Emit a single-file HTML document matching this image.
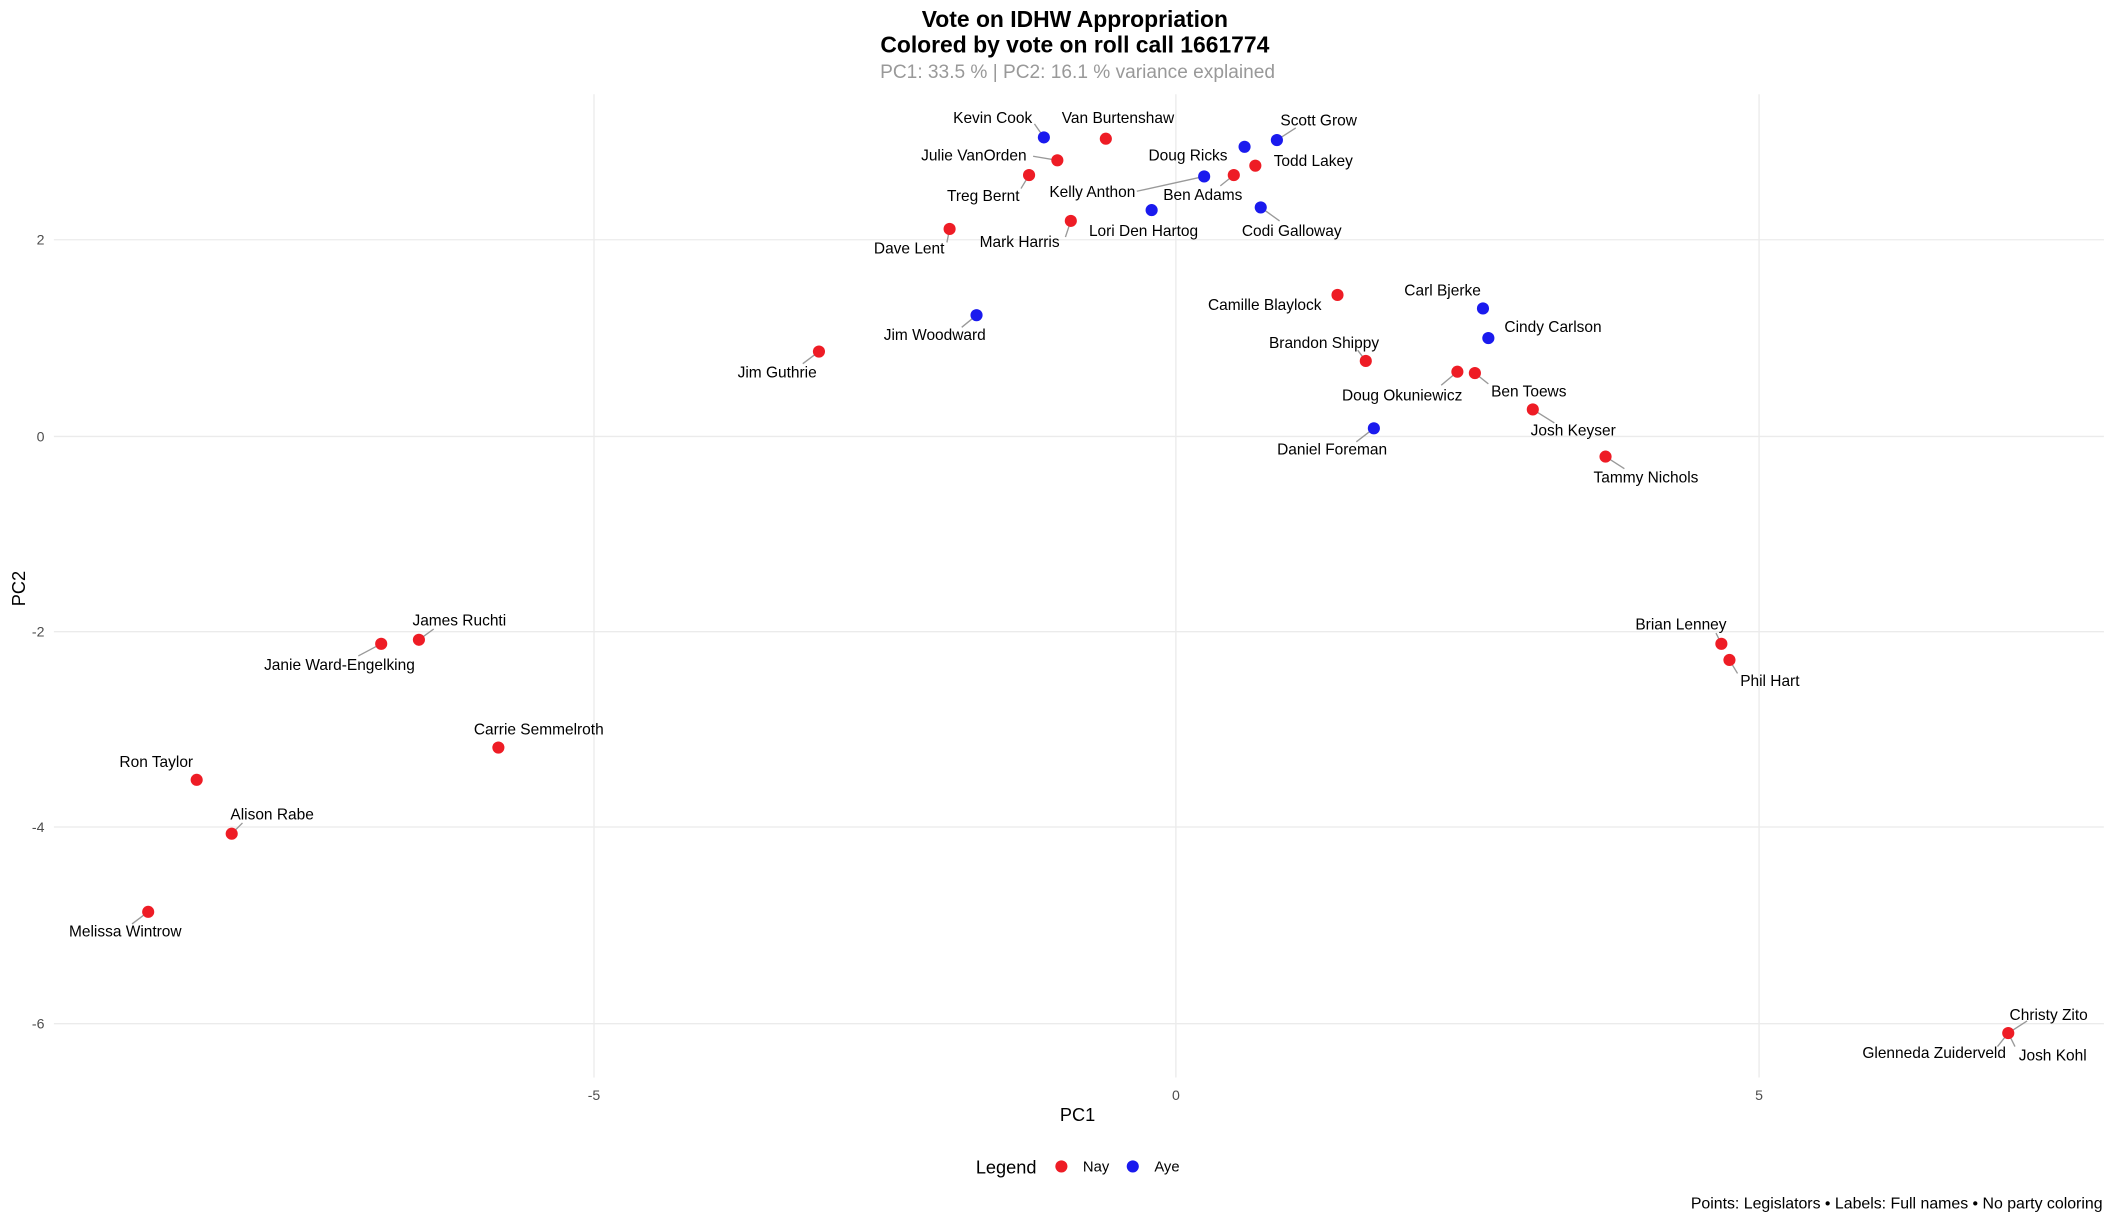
<!DOCTYPE html>
<html><head><meta charset="utf-8"><style>
html,body{margin:0;padding:0;background:#fff}
svg{display:block}
text{font-family:"Liberation Sans",Arial,sans-serif}
</style></head><body>
<svg width="2112" height="1222" viewBox="0 0 1568 907.27" xmlns="http://www.w3.org/2000/svg">
<rect width="1568" height="907.27" fill="#fff"/>
<g stroke="#ebebeb" stroke-width="1">
<line x1="441" y1="70" x2="441" y2="800"/>
<line x1="873" y1="70" x2="873" y2="800"/>
<line x1="1306" y1="70" x2="1306" y2="800"/>
<line x1="40" y1="178" x2="1562" y2="178"/>
<line x1="40" y1="324" x2="1562" y2="324"/>
<line x1="40" y1="469" x2="1562" y2="469"/>
<line x1="40" y1="614" x2="1562" y2="614"/>
<line x1="40" y1="760" x2="1562" y2="760"/>
</g>
<g font-size="10.5" fill="#4d4d4d" text-anchor="end" dominant-baseline="central">
<text x="33" y="178">2</text><text x="33" y="324">0</text><text x="33" y="469">-2</text><text x="33" y="614">-4</text><text x="33" y="760">-6</text>
</g>
<g font-size="10.5" fill="#4d4d4d" text-anchor="middle" dominant-baseline="central">
<text x="441" y="813">-5</text><text x="873" y="813">0</text><text x="1306" y="813">5</text>
</g>
<text x="800" y="828" font-size="13.5" text-anchor="middle" dominant-baseline="central">PC1</text>
<text transform="translate(14,437) rotate(-90)" font-size="13.5" text-anchor="middle" dominant-baseline="central">PC2</text>
<text x="798" y="14" font-size="17" font-weight="bold" text-anchor="middle" dominant-baseline="central">Vote on IDHW Appropriation</text>
<text x="798" y="33" font-size="17" font-weight="bold" text-anchor="middle" dominant-baseline="central">Colored by vote on roll call 1661774</text>
<text x="800" y="54" font-size="14.2" fill="#999" text-anchor="middle" dominant-baseline="central">PC1: 33.5 % | PC2: 16.1 % variance explained</text>
<g stroke="#999" stroke-width="1">
<line x1="775" y1="102" x2="768" y2="92"/>
<line x1="948" y1="104" x2="962" y2="95"/>
<line x1="785" y1="119" x2="767" y2="116"/>
<line x1="764" y1="130" x2="758" y2="140"/>
<line x1="894" y1="131" x2="844" y2="142"/>
<line x1="916" y1="130" x2="906" y2="138"/>
<line x1="936" y1="154" x2="950" y2="164"/>
<line x1="795" y1="164" x2="791" y2="176"/>
<line x1="705" y1="170" x2="703" y2="180"/>
<line x1="725" y1="234" x2="714" y2="243"/>
<line x1="608" y1="261" x2="596" y2="270"/>
<line x1="1014" y1="268" x2="1008" y2="260"/>
<line x1="1082" y1="276" x2="1070" y2="286"/>
<line x1="1095" y1="277" x2="1105" y2="285"/>
<line x1="1138" y1="304" x2="1154" y2="314"/>
<line x1="1020" y1="318" x2="1007" y2="328"/>
<line x1="1192" y1="339" x2="1206" y2="348"/>
<line x1="1278" y1="478" x2="1274" y2="470"/>
<line x1="1284" y1="490" x2="1290" y2="500"/>
<line x1="311" y1="475" x2="322" y2="467"/>
<line x1="283" y1="478" x2="266" y2="487"/>
<line x1="172" y1="619" x2="180" y2="611"/>
<line x1="110" y1="677" x2="98" y2="686"/>
<line x1="1491" y1="767" x2="1505" y2="758"/>
<line x1="1491" y1="767" x2="1483" y2="777"/>
<line x1="1491" y1="767" x2="1496" y2="777"/>
</g>
<g fill="#ee1c25">
<circle cx="821" cy="103" r="4.5"/><circle cx="932" cy="123" r="4.5"/><circle cx="785" cy="119" r="4.5"/>
<circle cx="764" cy="130" r="4.5"/><circle cx="916" cy="130" r="4.5"/><circle cx="795" cy="164" r="4.5"/>
<circle cx="705" cy="170" r="4.5"/><circle cx="993" cy="219" r="4.5"/><circle cx="1014" cy="268" r="4.5"/>
<circle cx="608" cy="261" r="4.5"/><circle cx="1082" cy="276" r="4.5"/><circle cx="1095" cy="277" r="4.5"/>
<circle cx="1138" cy="304" r="4.5"/><circle cx="1192" cy="339" r="4.5"/><circle cx="1278" cy="478" r="4.5"/>
<circle cx="1284" cy="490" r="4.5"/><circle cx="311" cy="475" r="4.5"/><circle cx="283" cy="478" r="4.5"/>
<circle cx="370" cy="555" r="4.5"/><circle cx="146" cy="579" r="4.5"/><circle cx="172" cy="619" r="4.5"/>
<circle cx="110" cy="677" r="4.5"/><circle cx="1491" cy="767" r="4.5"/>
</g>
<g fill="#1a1aee">
<circle cx="775" cy="102" r="4.5"/><circle cx="948" cy="104" r="4.5"/><circle cx="924" cy="109" r="4.5"/>
<circle cx="894" cy="131" r="4.5"/><circle cx="855" cy="156" r="4.5"/><circle cx="936" cy="154" r="4.5"/>
<circle cx="1101" cy="229" r="4.5"/><circle cx="1105" cy="251" r="4.5"/><circle cx="725" cy="234" r="4.5"/>
<circle cx="1020" cy="318" r="4.5"/>
</g>
<g font-size="11.5" fill="#000" text-anchor="middle" dominant-baseline="central">
<text x="737" y="88">Kevin Cook</text>
<text x="830" y="88">Van Burtenshaw</text>
<text x="979" y="90">Scott Grow</text>
<text x="882" y="116">Doug Ricks</text>
<text x="975" y="120">Todd Lakey</text>
<text x="723" y="116">Julie VanOrden</text>
<text x="730" y="146">Treg Bernt</text>
<text x="811" y="143">Kelly Anthon</text>
<text x="893" y="145">Ben Adams</text>
<text x="849" y="172">Lori Den Hartog</text>
<text x="959" y="172">Codi Galloway</text>
<text x="757" y="180">Mark Harris</text>
<text x="675" y="185">Dave Lent</text>
<text x="939" y="227">Camille Blaylock</text>
<text x="1071" y="216">Carl Bjerke</text>
<text x="1153" y="243">Cindy Carlson</text>
<text x="694" y="249">Jim Woodward</text>
<text x="983" y="255">Brandon Shippy</text>
<text x="577" y="277">Jim Guthrie</text>
<text x="1041" y="294">Doug Okuniewicz</text>
<text x="1135" y="291">Ben Toews</text>
<text x="1168" y="320">Josh Keyser</text>
<text x="989" y="334">Daniel Foreman</text>
<text x="1222" y="355">Tammy Nichols</text>
<text x="1248" y="464">Brian Lenney</text>
<text x="1314" y="506">Phil Hart</text>
<text x="341" y="461">James Ruchti</text>
<text x="252" y="494">Janie Ward-Engelking</text>
<text x="400" y="542">Carrie Semmelroth</text>
<text x="116" y="566">Ron Taylor</text>
<text x="202" y="605">Alison Rabe</text>
<text x="93" y="692">Melissa Wintrow</text>
<text x="1521" y="754">Christy Zito</text>
<text x="1436" y="782">Glenneda Zuiderveld</text>
<text x="1524" y="784">Josh Kohl</text>
</g>
<text x="747" y="867" font-size="13.5" text-anchor="middle" dominant-baseline="central">Legend</text>
<circle cx="788" cy="866" r="4.5" fill="#ee1c25"/>
<text x="804" y="867" font-size="11" dominant-baseline="central">Nay</text>
<circle cx="841" cy="866" r="4.5" fill="#1a1aee"/>
<text x="857" y="867" font-size="11" dominant-baseline="central">Aye</text>
<text x="1561" y="894" font-size="11.8" text-anchor="end" dominant-baseline="central">Points: Legislators • Labels: Full names • No party coloring</text>
</svg>
</body></html>
